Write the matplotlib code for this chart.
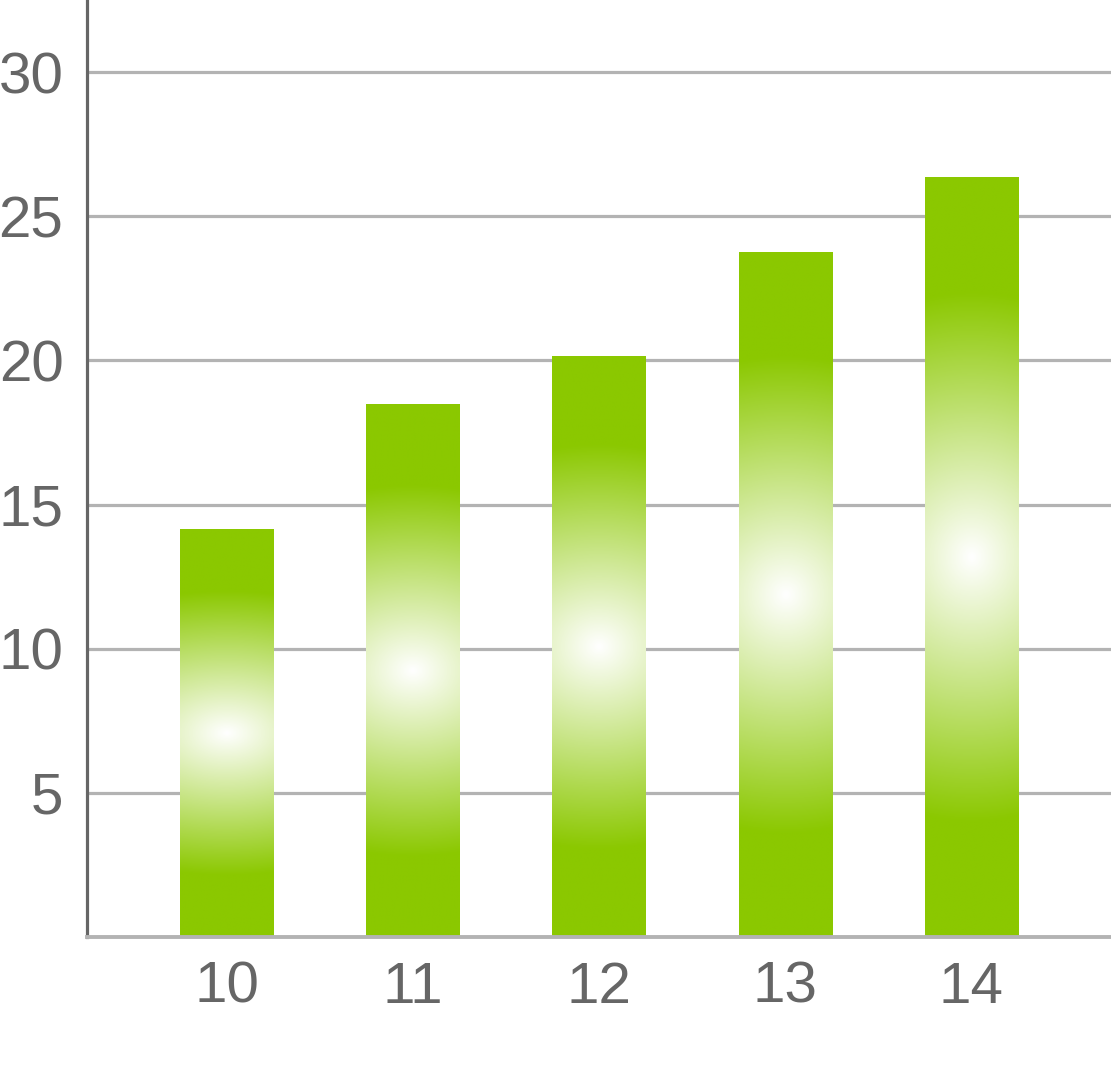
import numpy as np
import matplotlib
matplotlib.use("Agg")
import matplotlib.pyplot as plt
from matplotlib.colors import LinearSegmentedColormap

categories = ["10", "11", "12", "13", "14"]
values = [14.12, 18.47, 20.15, 23.75, 26.33]
y_ticks = [5, 10, 15, 20, 25, 30]

GREEN = "#8bc800"
TEXT = "#666666"
GRID = "#b3b3b3"

plt.rcParams["font.family"] = ["Liberation Sans", "DejaVu Sans"]

fig = plt.figure(figsize=(11.11, 10.86), dpi=100)
ax = fig.add_axes([87 / 1111, 149 / 1086, 1 - 87 / 1111, 1 - 149 / 1086])

x = np.arange(len(categories))
bars = ax.bar(x, values, width=0.5, color=GREEN, zorder=2)

# radial white glow in the middle of each bar
cmap = LinearSegmentedColormap.from_list("glow", ["#ffffff", GREEN], N=256)
gy, gx = np.mgrid[-1:1:400j, -1:1:60j]
t = np.sqrt((gx / 5.0) ** 2 + (gy / 0.70) ** 2)
img = np.clip(t, 0, 1)
for b in bars:
    x0, w, h = b.get_x(), b.get_width(), b.get_height()
    ax.imshow(img, cmap=cmap, vmin=0, vmax=1, extent=(x0, x0 + w, 0, h),
              aspect="auto", interpolation="bilinear", zorder=3)

ax.set_xlim(-0.75, 4.75)
ax.set_ylim(0, 32.5)
ax.set_xticks(x)
ax.set_xticklabels(categories)
ax.set_yticks(y_ticks)
ax.tick_params(axis="both", length=0, labelsize=42, colors=TEXT)
ax.tick_params(axis="y", pad=17)
ax.tick_params(axis="x", pad=17)

ax.grid(axis="y", color=GRID, linewidth=2.3, zorder=1)
ax.set_axisbelow(True)
for s in ("top", "right"):
    ax.spines[s].set_visible(False)
ax.spines["left"].set_color(TEXT)
ax.spines["left"].set_linewidth(2.3)
ax.spines["bottom"].set_color(GRID)
ax.spines["bottom"].set_linewidth(2.8)
ax.spines["bottom"].set_zorder(4)

fig.savefig("out.png", dpi=100, facecolor="white")
